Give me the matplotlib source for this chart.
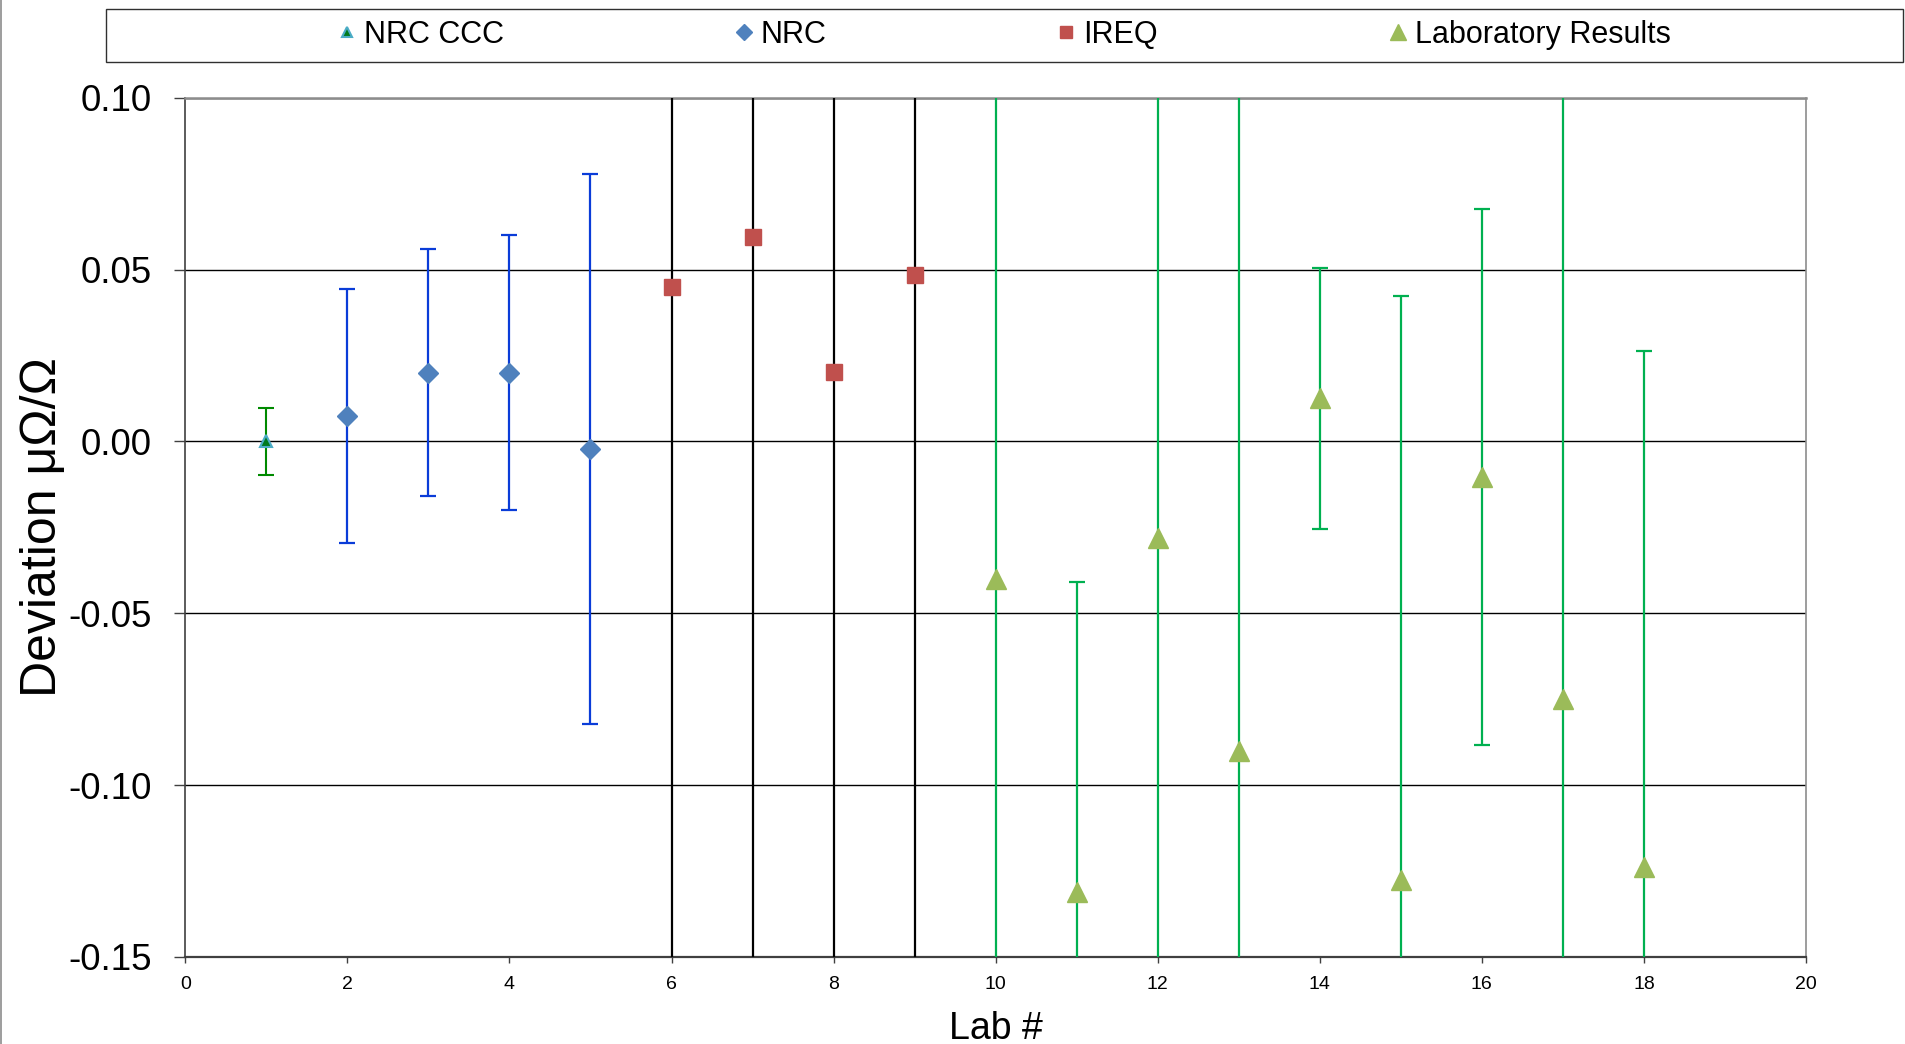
import matplotlib
matplotlib.use('Agg')
import matplotlib.pyplot as plt
from matplotlib.patches import Rectangle
from matplotlib.lines import Line2D

plt.rcParams['font.family'] = ['Liberation Sans', 'DejaVu Sans']
plt.rcParams['axes.unicode_minus'] = False

# NRC CCC reference point
ccc_lab = [1]
ccc_dev = [0.0]
ccc_err = [0.0098]

# NRC results
nrc_lab = [2, 3, 4, 5]
nrc_dev = [0.0074, 0.020, 0.020, -0.0021]
nrc_err = [0.037, 0.036, 0.040, 0.080]

# IREQ results (uncertainty bars run off the scale)
ireq_lab = [6, 7, 8, 9]
ireq_dev = [0.0450, 0.0594, 0.0202, 0.0484]
ireq_err = [0.25, 0.25, 0.25, 0.25]

# participating laboratories
lab_lab = [10, 11, 12, 13, 14, 15, 16, 17, 18]
lab_dev = [-0.040, -0.131, -0.028, -0.090, 0.0125, -0.1276, -0.0103, -0.0749, -0.1237]
lab_err = [0.16, 0.090, 0.15, 0.20, 0.038, 0.170, 0.078, 0.20, 0.150]

y_ticks = [-0.15, -0.10, -0.05, 0.00, 0.05, 0.10]
x_ticks = list(range(0, 21, 2))

W, H = 1905, 1044
fig = plt.figure(figsize=(W / 100, H / 100), dpi=100)
ax = fig.add_axes([185.3 / W, 1 - 957 / H, (1806 - 185.3) / W, (957 - 97.7) / H])

ccc = ax.errorbar(ccc_lab, ccc_dev, yerr=ccc_err, fmt='^', ms=9, mfc='#007A1E', mec='#4BACC6',
                  mew=1.5, ecolor='#008A00', elinewidth=1.5, capsize=6, capthick=1.5,
                  label='NRC CCC', zorder=5)
nrc = ax.errorbar(nrc_lab, nrc_dev, yerr=nrc_err, fmt='D', ms=10, mfc='#4F81BD', mec='#4F81BD',
                  ecolor='#0A3CD8', elinewidth=1.6, capsize=6, capthick=1.6,
                  label='NRC', zorder=5)
ireq = ax.errorbar(ireq_lab, ireq_dev, yerr=ireq_err, fmt='s', ms=11, mfc='#C0504D', mec='#C0504D',
                   ecolor='black', elinewidth=1.6, capsize=6, capthick=1.6,
                   label='IREQ', zorder=5)
labs = ax.errorbar(lab_lab, lab_dev, yerr=lab_err, fmt='^', ms=14, mfc='#9BBB59', mec='#9BBB59',
                   ecolor='#00B050', elinewidth=1.6, capsize=6, capthick=1.6,
                   label='Laboratory Results', zorder=5)

ax.set_xlim(0, 20)
ax.set_ylim(-0.15, 0.10)
ax.set_xticks(x_ticks)
ax.set_yticks(y_ticks)
ax.set_yticklabels([f'{v:.2f}' for v in y_ticks])

ax.yaxis.grid(True, color='black', lw=1.0, zorder=1)
ax.set_axisbelow(True)

ax.spines['left'].set_color('#404040')
ax.spines['left'].set_linewidth(1.2)
ax.spines['bottom'].set_color('#404040')
ax.spines['bottom'].set_linewidth(1.6)
ax.spines['top'].set_color('#8C8C8C')
ax.spines['top'].set_linewidth(1.8)
ax.spines['right'].set_color('#8C8C8C')
ax.spines['right'].set_linewidth(1.2)

ax.tick_params(axis='y', direction='out', length=8, width=1, color='#404040',
               labelsize=26.5, pad=16)
ax.tick_params(axis='x', direction='out', length=4.5, width=1, color='#404040',
               labelsize=14, pad=9)

ax.set_xlabel('Lab #', fontsize=27)
ax.xaxis.set_label_coords(0.5, -0.063)
ax.set_ylabel('Deviation μΩ/Ω', fontsize=36)
ax.yaxis.set_label_coords(-0.0736, 0.5)

# legend box across the top
fig.add_artist(Rectangle((105.7 / W, 1 - 62 / H), (1903 - 105.7) / W, (62 - 8.5) / H,
                         transform=fig.transFigure, fill=False, ec='#303030', lw=1.0))
handles = [ccc[0], nrc[0], ireq[0], labs[0]]
fig.legend(handles, ['NRC CCC', 'NRC', 'IREQ', 'Laboratory Results'],
           loc='center', bbox_to_anchor=(1005 / W, 1 - 35 / H), ncol=4, frameon=False,
           fontsize=22, handlelength=0.5, handletextpad=0.3, columnspacing=7.6,
           markerscale=0.85)

# thin frame line on the left edge
fig.add_artist(Line2D([1 / W, 1 / W], [0, 1], transform=fig.transFigure, color='#8C8C8C', lw=1.2))

fig.savefig('out.png', dpi=100)
